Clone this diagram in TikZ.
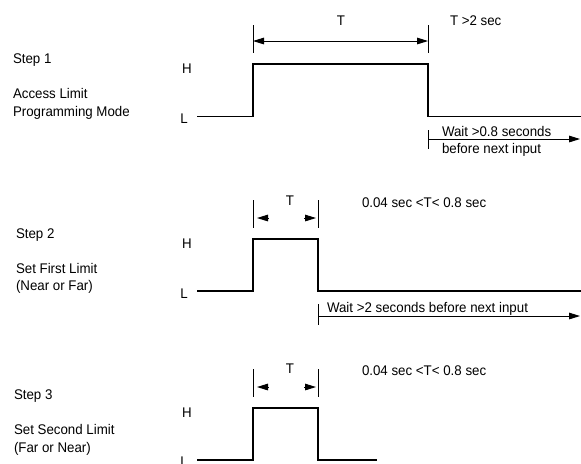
\documentclass[tikz,border=0pt]{standalone}
\usepackage{fontspec}
\setmainfont[FakeStretch=0.95]{Liberation Sans}
\usetikzlibrary{arrows.meta,calc}
\begin{document}
\begin{tikzpicture}[x=0.5pt, y=-0.5pt, font=\fontsize{7}{9}\selectfont,
  >={Triangle[length=5.5pt,width=3.3pt]},
  wave/.style={line width=0.65pt, line join=miter},
  tick/.style={line width=0.5pt},
  dim/.style={line width=0.5pt},
  txt/.style={anchor=base west, inner sep=0pt, outer sep=0pt},
  lvl/.style={anchor=base, inner sep=0pt, outer sep=0pt}]
\useasboundingbox (0,0) rectangle (581,463);
% step 1: long pulse
\node[txt] (s1)  at (13,63)  {Step 1};
\node[txt] (s1a) at (13,98)  {Access Limit};
\node[txt] (s1b) at (13,116) {Programming Mode};
\node[lvl] (h1) at (187,73)  {H};
\node[lvl] (l1) at (184,123) {L};
\draw[wave] (197,116.5) -- (253,116.5) -- (253,64) -- (428,64) -- (428,116.5) -- (581,116.5);
\coordinate (t1a) at (253,41);
\coordinate (t1b) at (428,41);
\draw[tick] ($(t1a)+(0,-16)$) -- ($(t1a)+(0,12)$);
\draw[tick] ($(t1b)+(0,-16)$) -- ($(t1b)+(0,12)$);
\draw[dim, <->] (t1a) -- (t1b);
\node[lvl] (T1)  at (341,25) {T};
\node[txt] (T1r) at (450,25) {T >2 sec};
\coordinate (w1)  at (428,139);
\coordinate (w1e) at (580,139);
\draw[tick] ($(w1)+(0,-9)$) -- ($(w1)+(0,10)$);
\draw[dim, ->] (w1) -- (w1e);
\node[txt] (w1t) at (442,136) {Wait >0.8 seconds};
\node[txt] (w1u) at (442,153) {before next input};
% step 2: short pulse
\node[txt] (s2)  at (16,238) {Step 2};
\node[txt] (s2a) at (16,273) {Set First Limit};
\node[txt] (s2b) at (16,290) {(Near or Far)};
\node[lvl] (h2) at (187,248) {H};
\node[lvl] (l2) at (184,298) {L};
\draw[wave] (197,291) -- (253,291) -- (253,239) -- (318,239) -- (318,291) -- (581,291);
\coordinate (t2a) at (253,218);
\coordinate (t2b) at (318,218);
\draw[tick] ($(t2a)+(0,-18)$) -- ($(t2a)+(0,10)$);
\draw[tick] ($(t2b)+(0,-18)$) -- ($(t2b)+(0,10)$);
\draw[dim, ->] ($(t2a)+(15,0)$) -- ($(t2a)+(4,0)$);
\draw[dim, ->] ($(t2b)+(-14,0)$) -- ($(t2b)+(-2,0)$);
\node[lvl] (T2)  at (290,205) {T};
\node[txt] (T2r) at (362,207) {0.04 sec <T< 0.8 sec};
\coordinate (w2)  at (318,316);
\coordinate (w2e) at (580,316);
\draw[tick] ($(w2)+(0,-12)$) -- ($(w2)+(0,9)$);
\draw[dim, ->] (w2) -- (w2e);
\node[txt] (w2t) at (327,312) {Wait >2 seconds before next input};
% step 3: short pulse
\node[txt] (s3)  at (14,399) {Step 3};
\node[txt] (s3a) at (14,434) {Set Second Limit};
\node[txt] (s3b) at (14,452) {(Far or Near)};
\node[lvl] (h3) at (187,417) {H};
\node[lvl] (l3) at (184,466) {L};
\draw[wave] (197,460) -- (253,460) -- (253,408) -- (318,408) -- (318,460) -- (377,460);
\coordinate (t3a) at (253,387);
\coordinate (t3b) at (318,387);
\draw[tick] ($(t3a)+(0,-18)$) -- ($(t3a)+(0,10)$);
\draw[tick] ($(t3b)+(0,-18)$) -- ($(t3b)+(0,10)$);
\draw[dim, ->] ($(t3a)+(15,0)$) -- ($(t3a)+(4,0)$);
\draw[dim, ->] ($(t3b)+(-14,0)$) -- ($(t3b)+(-2,0)$);
\node[lvl] (T3)  at (290,373) {T};
\node[txt] (T3r) at (362,375) {0.04 sec <T< 0.8 sec};
\end{tikzpicture}
\end{document}
